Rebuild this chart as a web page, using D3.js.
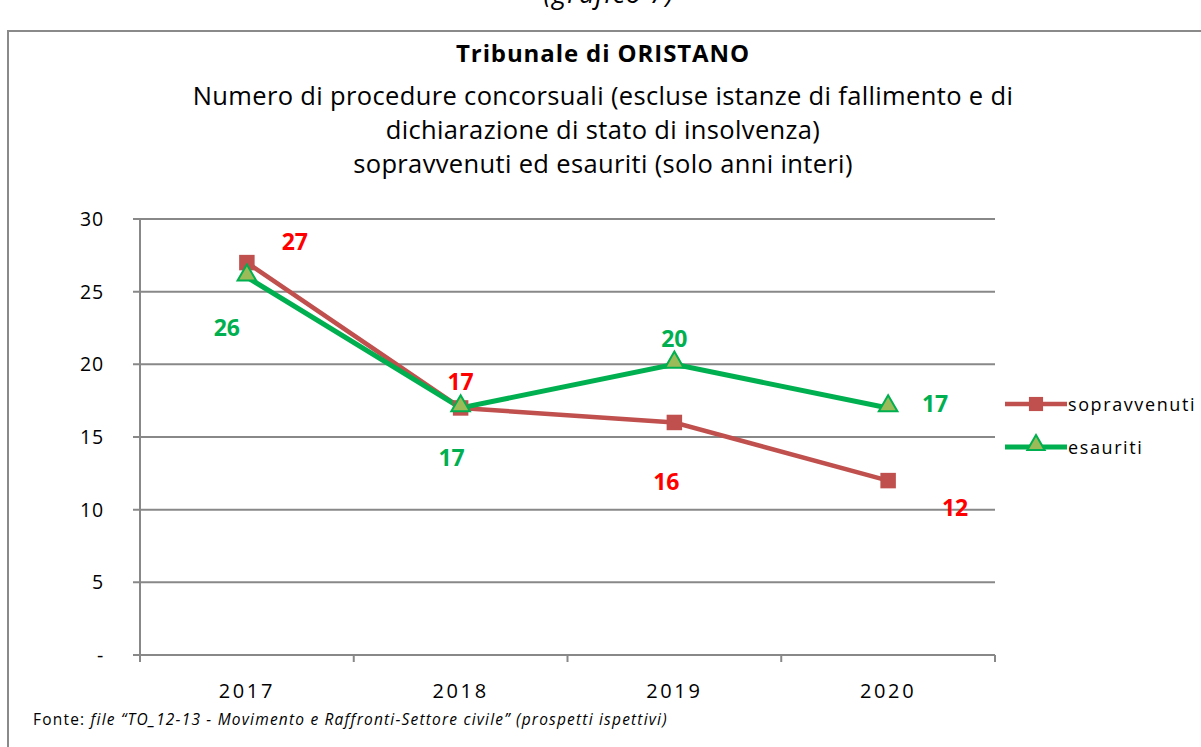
<!DOCTYPE html>
<html><head><meta charset="utf-8">
<script src="https://cdn.jsdelivr.net/npm/d3@7"></script>
<style>body{margin:0;background:#fff;}svg{display:block;font-family:"Open Sans",Lato,sans-serif;}</style>
</head><body>
<svg id="c" width="1201" height="747"></svg>
<script>
const categories = ["2017","2018","2019","2020"];
const sopravvenuti = [27,17,16,12];
const esauriti = [26,17,20,17];
const yTicks = [0,5,10,15,20,25,30];
const yTickLabels = ["-","5","10","15","20","25","30"];
const seriesNames = ["sopravvenuti","esauriti"];

const svg = d3.select("#c");
// frame
svg.append("path").attr("d","M8,747 V31 H1201").attr("fill","none").attr("stroke","#8a8a8a").attr("stroke-width",2);
svg.append("text").attr("x",609).attr("y",3).attr("text-anchor","middle").attr("font-style","italic").attr("font-size",27).attr("letter-spacing","1px").text("(grafico 7)");

// titles
svg.append("text").attr("x",603).attr("y",62).attr("text-anchor","middle").attr("font-weight","bold").attr("font-size",24).attr("letter-spacing","0.9px").text("Tribunale di ORISTANO");
const sub = ["Numero di procedure concorsuali (escluse istanze di fallimento e di","dichiarazione di stato di insolvenza)","sopravvenuti ed esauriti (solo anni interi)"];
sub.forEach((t,i)=>svg.append("text").attr("x",603).attr("y",105+i*34).attr("text-anchor","middle").attr("font-size",25.5).attr("letter-spacing","0.35px").text(t));

const x = d3.scaleBand().domain(categories).range([140,995]);
const y = d3.scaleLinear().domain([0,30]).range([655,219]);

// gridlines
const g = svg.append("g");
g.selectAll("line.grid").data(yTicks).join("line")
  .attr("x1",133).attr("x2",995).attr("y1",d=>y(d)).attr("y2",d=>y(d))
  .attr("stroke","#888").attr("stroke-width",2);
// y axis line
g.append("line").attr("x1",140).attr("x2",140).attr("y1",y(30)).attr("y2",y(0)+6).attr("stroke","#888").attr("stroke-width",2);
// y labels
g.selectAll("text.yl").data(yTicks).join("text")
  .attr("x",104).attr("y",d=>y(d)+7).attr("text-anchor","end").attr("font-size",19.5).attr("fill","#000").attr("letter-spacing","0.8px")
  .text((d,i)=>yTickLabels[i]);
// x ticks at band edges
const edges = categories.map(c=>x(c)).concat([x.range()[1]]);
g.selectAll("line.xt").data(edges).join("line")
  .attr("x1",d=>d).attr("x2",d=>d).attr("y1",y(0)).attr("y2",y(0)+7).attr("stroke","#888").attr("stroke-width",2);
g.selectAll("text.xl").data(categories).join("text")
  .attr("x",d=>x(d)+x.bandwidth()/2).attr("y",698).attr("text-anchor","middle").attr("font-size",20).attr("letter-spacing","2.6px").text(d=>d);

const cx = c=>x(c)+x.bandwidth()/2;
const line = d3.line().x((d,i)=>cx(categories[i])).y(d=>y(d));
const red="#C0504D", green="#00B050", tri="#9BBB59";

svg.append("path").datum(sopravvenuti).attr("d",line).attr("fill","none").attr("stroke",red).attr("stroke-width",4.5);
svg.append("path").datum(esauriti).attr("d",line).attr("fill","none").attr("stroke",green).attr("stroke-width",5);

const sq = d3.symbol().type(d3.symbolSquare).size(240);
const tr = d3.symbol().type(d3.symbolTriangle).size(150);
svg.selectAll("path.sq").data(sopravvenuti).join("path")
  .attr("transform",(d,i)=>`translate(${cx(categories[i])},${y(d)})`).attr("d",sq).attr("fill",red);
svg.selectAll("path.tr").data(esauriti).join("path")
  .attr("transform",(d,i)=>`translate(${cx(categories[i])},${y(d)-2})`).attr("d",tr).attr("fill",tri).attr("stroke",green).attr("stroke-width",2);

// data labels with placement offsets
const redOff = [[48,-29],[0,-34],[-8,52],[67,19]];
const greenOff = [[-20,43],[-9,42],[0,-33],[47,-12]];
svg.selectAll("text.rl").data(sopravvenuti).join("text")
  .attr("x",(d,i)=>cx(categories[i])+redOff[i][0]).attr("y",(d,i)=>y(d)+redOff[i][1]+16)
  .attr("text-anchor","middle").attr("font-weight","bold").attr("font-size",23).attr("fill","#FF0000").text(d=>d);
svg.selectAll("text.gl").data(esauriti).join("text")
  .attr("x",(d,i)=>cx(categories[i])+greenOff[i][0]).attr("y",(d,i)=>y(d)+greenOff[i][1]+16)
  .attr("text-anchor","middle").attr("font-weight","bold").attr("font-size",23).attr("fill",green).text(d=>d);

// legend
const leg = svg.append("g");
[[red,"sq"],[green,"tr"]].forEach((s,i)=>{
  const ly = 404 + i*43;
  leg.append("line").attr("x1",1005).attr("x2",1067).attr("y1",ly).attr("y2",ly).attr("stroke",s[0]).attr("stroke-width",s[1]=="sq"?4.5:5);
  if(s[1]=="sq") leg.append("path").attr("transform",`translate(1036,${ly})`).attr("d",d3.symbol().type(d3.symbolSquare).size(200)).attr("fill",red);
  else leg.append("path").attr("transform",`translate(1036,${ly-2})`).attr("d",d3.symbol().type(d3.symbolTriangle).size(130)).attr("fill",tri).attr("stroke",green).attr("stroke-width",2);
  leg.append("text").attr("x",1068).attr("y",ly+7).attr("font-size",18).attr("letter-spacing","1.6px").text(seriesNames[i]);
});

// footer
const f = svg.append("text").attr("x",33).attr("y",725).attr("font-size",15.5).attr("letter-spacing","1.2px");
f.append("tspan").text("Fonte: ");
f.append("tspan").attr("font-style","italic").text("file “TO_12-13 - Movimento e Raffronti-Settore civile” (prospetti ispettivi)");
</script>
</body></html>
